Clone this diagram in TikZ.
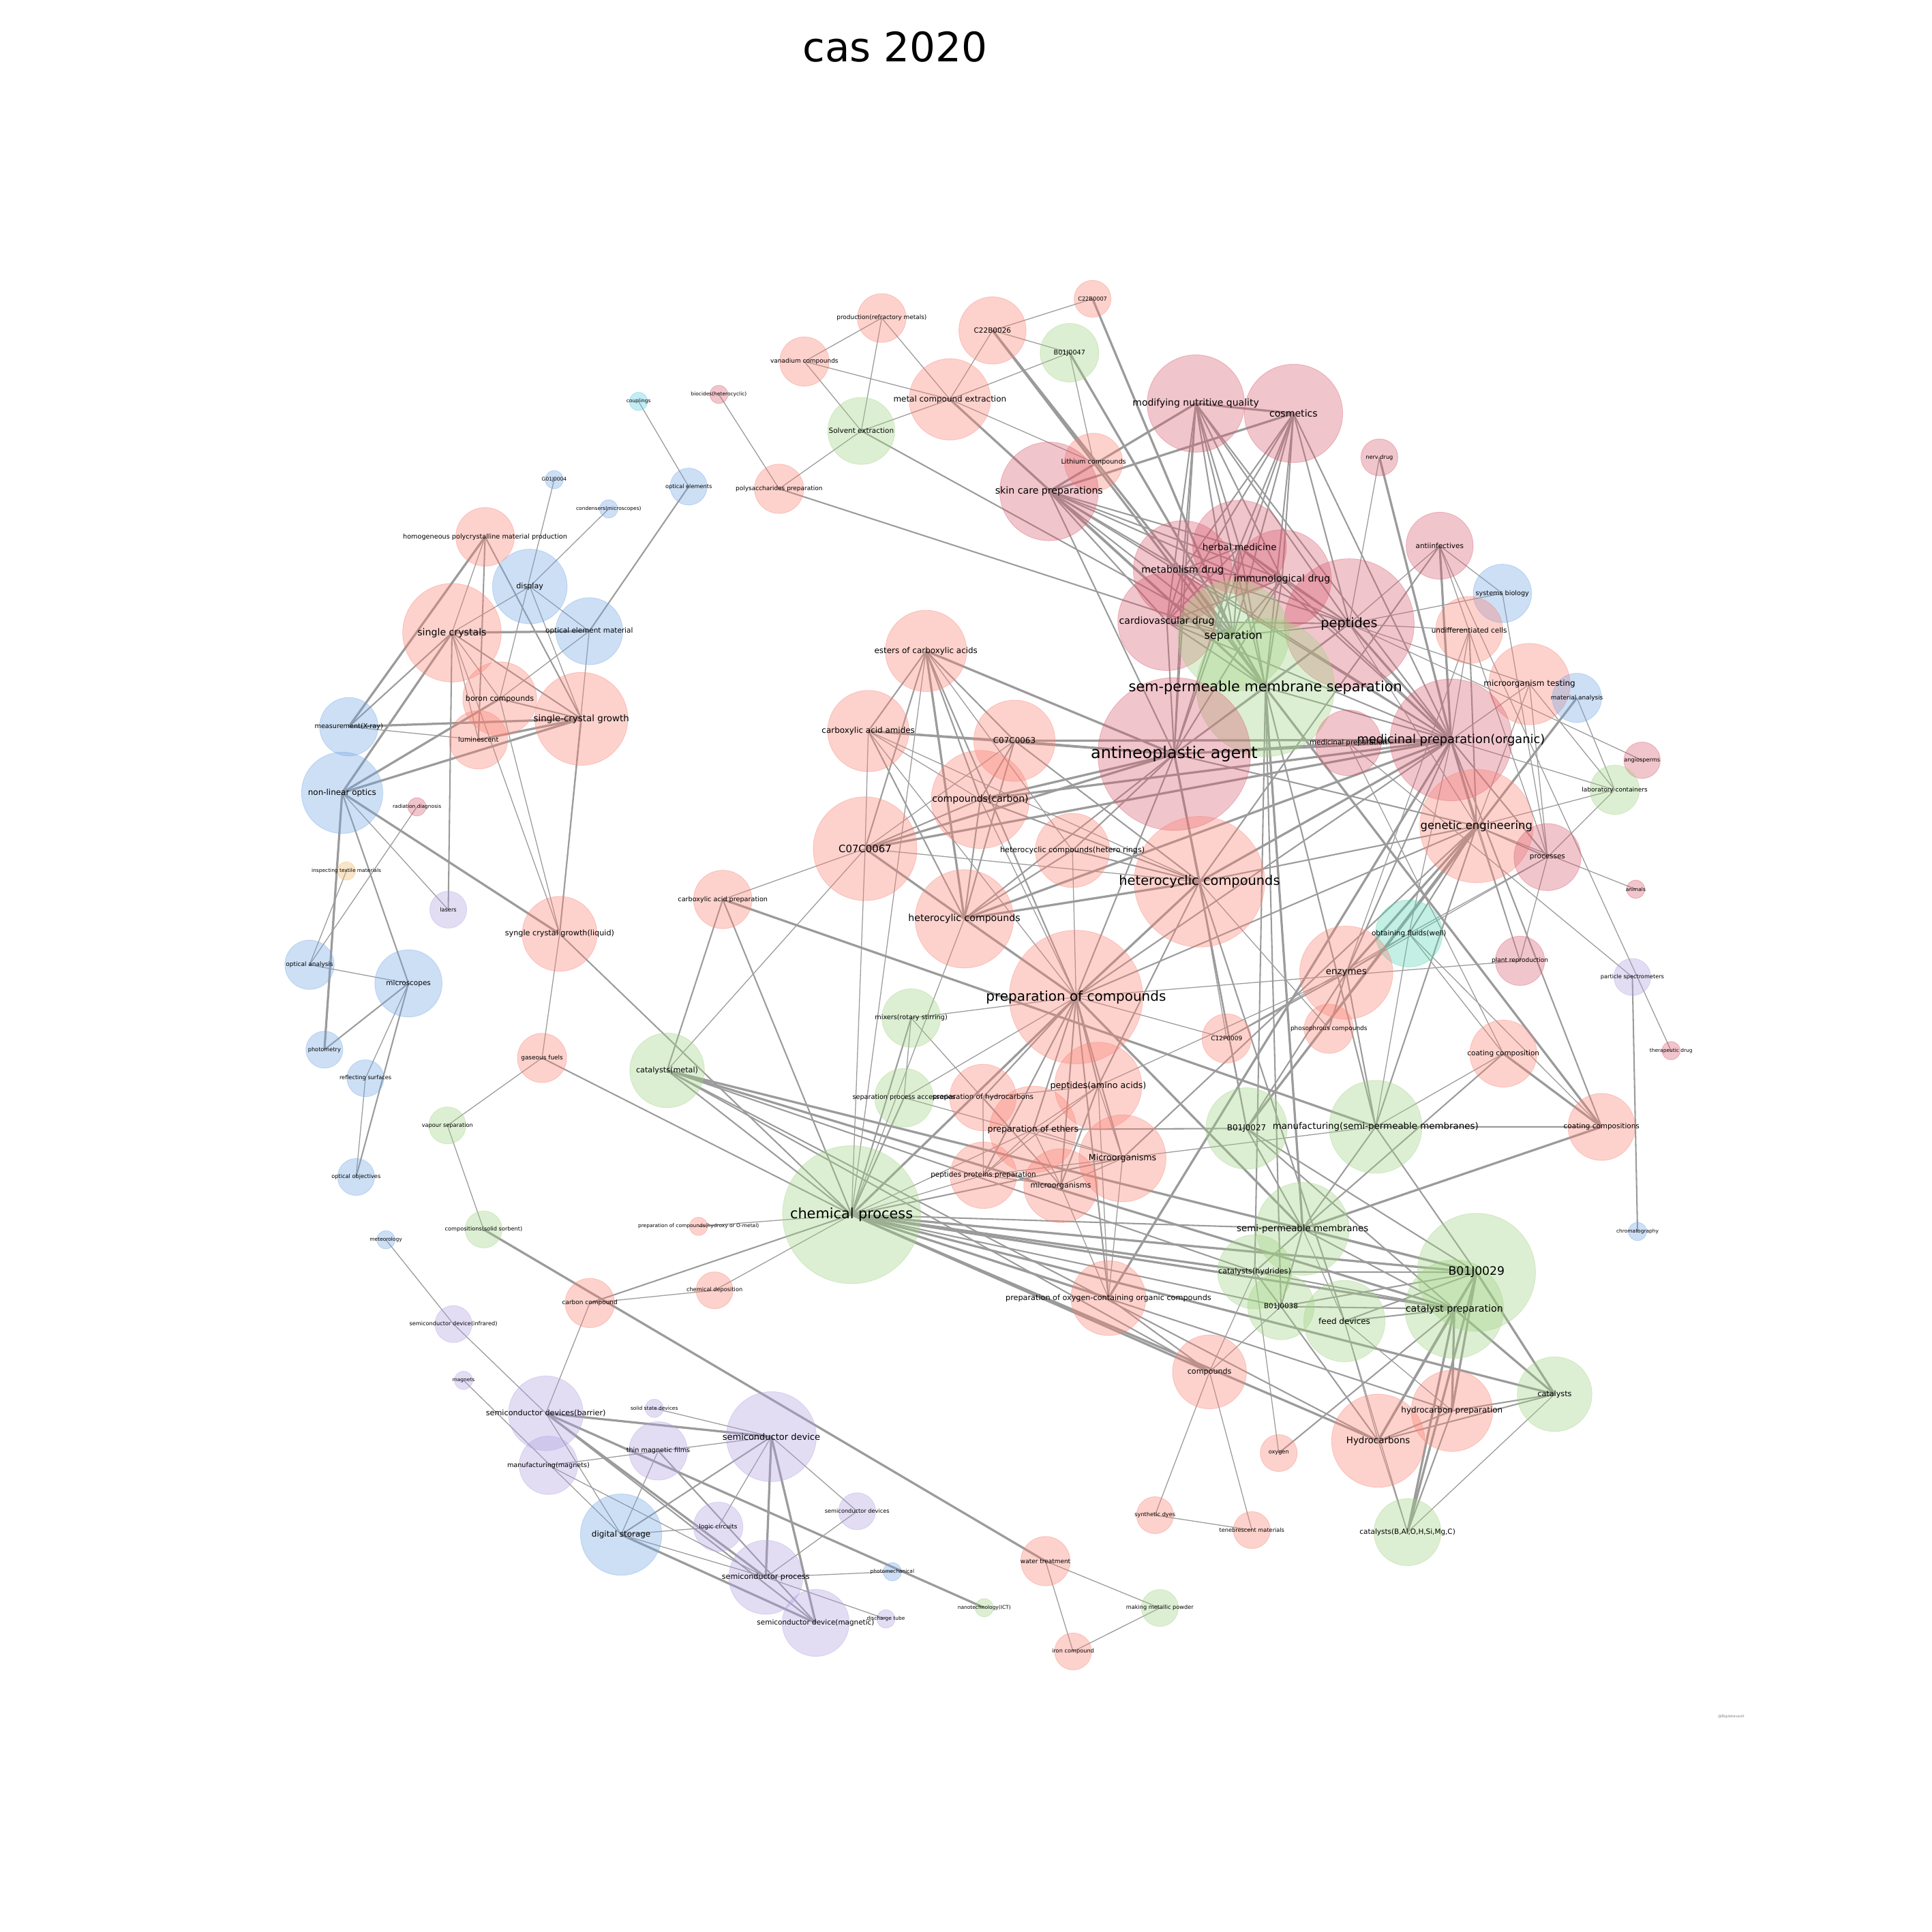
\documentclass[tikz,border=0pt]{standalone}
\usepackage{fontspec}
\setmainfont{DejaVu Sans}
\pgfdeclarelayer{bg}
\pgfdeclarelayer{edges}
\pgfdeclarelayer{labels}
\pgfsetlayers{bg,edges,main,labels}
\definecolor{cS}{RGB}{250,128,114}
\definecolor{cP}{RGB}{215,90,110}
\definecolor{cG}{RGB}{160,210,130}
\definecolor{cB}{RGB}{112,166,229}
\definecolor{cL}{RGB}{175,160,226}
\definecolor{cT}{RGB}{86,212,178}
\definecolor{cC}{RGB}{86,201,224}
\definecolor{cO}{RGB}{240,184,98}
\definecolor{edgec}{RGB}{155,155,155}
\tikzset{
  nodecirc/.style={circle, inner sep=0pt, outer sep=0pt, fill opacity=0.35, draw opacity=0.35, line width=0.5pt},
  et/.style={draw=edgec, line width=0.7pt},
  em/.style={draw=edgec, line width=1.15pt},
  ek/.style={draw=edgec, line width=1.8pt},
  lbl/.style={text=black, inner sep=0pt}
}
\newcommand{\ND}[6]{%
  \pgfmathsetmacro{\fsz}{4+0.0024*#4*#4}%
  \node[nodecirc, fill=#5, draw=#5, minimum size=#4*2pt] (#1) at (#2,#3) {};%
  \begin{pgfonlayer}{labels}\node[lbl, font=\fontsize{\fsz}{\fsz}\selectfont] at (#1.center) {#6};\end{pgfonlayer}%
}
\begin{document}
\begin{tikzpicture}[x=1pt,y=-1pt]
\begin{pgfonlayer}{bg}
\fill[white] (0,0) rectangle (1568,1568);
\end{pgfonlayer}
\useasboundingbox (0,0) rectangle (1568,1568);
\node[font=\fontsize{33}{33}\selectfont, inner sep=0pt] (title) at (726.5,38) {cas 2020};
\node[font=\fontsize{2.9}{3}\selectfont, text=gray, inner sep=0pt] (wm) at (1405,1393) {@Bigdatavault};
% top cluster
\ND{prm}{715.6}{258.1}{19.8}{cS}{production(refractory metals)}
\ND{van}{652.8}{293.4}{20}{cS}{vanadium compounds}
\ND{c26}{805.5}{268.2}{27.3}{cS}{C22B0026}
\ND{c07}{886.7}{242.5}{15}{cS}{C22B0007}
\ND{b47}{868}{286.3}{23.8}{cG}{B01J0047}
\ND{mce}{770.9}{324.1}{33}{cS}{metal compound extraction}
\ND{sol}{699}{349.7}{27.2}{cG}{Solvent extraction}
\ND{pol}{632.3}{396.7}{20}{cS}{polysaccharides preparation}
\ND{lit}{887.5}{375.2}{23.6}{cS}{Lithium compounds}
\ND{bio}{583.4}{320.1}{7.4}{cP}{biocides(heterocyclic)}
\ND{cou}{518.2}{325.8}{7.4}{cC}{couplings}
\ND{ski}{851.4}{398.8}{40}{cP}{skin care preparations}
\ND{mnq}{970.5}{327.5}{39.5}{cP}{modifying nutritive quality}
\ND{cos}{1049.8}{335.5}{39.9}{cP}{cosmetics}
\ND{ner}{1119.5}{371.2}{15}{cP}{nerv drug}
\ND{her}{1006}{444}{38}{cP}{herbal medicine}
\ND{met}{959.8}{462.6}{40}{cP}{metabolism drug}
\ND{imm}{1040.5}{470}{40}{cP}{immunological drug}
\ND{car}{947}{504.4}{39.8}{cP}{cardiovascular drug}
\ND{pep}{1095}{506.2}{52.7}{cP}{peptides}
\ND{sep}{1001}{516}{45}{cG}{separation}
\ND{sms}{1027}{558}{56}{cG}{sem-permeable membrane separation}
\ND{ant}{953}{612}{62}{cP}{antineoplastic agent}
\ND{anf}{1168.4}{442.9}{27.2}{cP}{antiinfectives}
\ND{sys}{1219.3}{481.6}{23.7}{cB}{systems biology}
\ND{und}{1192.4}{511.3}{27.2}{cS}{undifferentiated cells}
\ND{mot}{1241.3}{555.2}{33}{cS}{microorganism testing}
\ND{man}{1279.8}{566.4}{20}{cB}{material analysis}
\ND{mpr}{1094.3}{602.9}{26.7}{cP}{medicinal preparation}
\ND{mpo}{1177.6}{600.5}{49.4}{cP}{medicinal preparation(organic)}
\ND{ang}{1332.7}{617}{14.8}{cP}{angiosperms}
\ND{lab}{1310.5}{641}{20}{cG}{laboratory containers}
\ND{gen}{1198.3}{670.4}{46}{cS}{genetic engineering}
\ND{pro}{1255.9}{695.6}{27.2}{cP}{processes}
\ND{ani}{1327.5}{721.7}{7.4}{cP}{animals}
\ND{obt}{1143.5}{757.6}{27.2}{cT}{obtaining fluids(well)}
\ND{enz}{1092.6}{789.4}{37.8}{cS}{enzymes}
\ND{pla}{1233.6}{779.8}{20}{cP}{plant reproduction}
\ND{par}{1324.8}{792.9}{15}{cL}{particle spectrometers}
\ND{pho}{1078.5}{834.9}{20}{cS}{phosophrous compounds}
\ND{c12}{995.5}{842.8}{20}{cS}{C12P0009}
\ND{coa}{1220.1}{855.1}{27.2}{cS}{coating composition}
\ND{the}{1356.2}{852.7}{7.4}{cP}{therapeutic drug}
\ND{b27}{1011.7}{915.8}{33}{cG}{B01J0027}
\ND{msp}{1116.4}{914.5}{37.7}{cG}{manufacturing(semi-permeable membranes)}
\ND{ccs}{1299.8}{914.6}{27.2}{cS}{coating compositions}
% middle
\ND{est}{751.5}{528.3}{33}{cS}{esters of carboxylic acids}
\ND{caa}{704.7}{593.3}{33}{cS}{carboxylic acid amides}
\ND{c63}{823.3}{601.2}{33}{cS}{C07C0063}
\ND{cca}{795.6}{648.8}{39.8}{cS}{compounds(carbon)}
\ND{c67}{702.1}{688.8}{42.1}{cS}{C07C0067}
\ND{hhr}{870.4}{690.2}{30.1}{cS}{heterocyclic compounds(hetero rings)}
\ND{het}{973.5}{715.6}{53}{cS}{heterocyclic compounds}
\ND{hcy}{782.6}{745.7}{39.9}{cS}{heterocylic compounds}
\ND{cap}{586.6}{730}{23.7}{cS}{carboxylic acid preparation}
\ND{poc}{873.3}{809.2}{54.2}{cS}{preparation of compounds}
\ND{mix}{739.5}{826.2}{23.7}{cG}{mixers(rotary stirring)}
\ND{spa}{733.7}{890.9}{23.8}{cG}{separation process accessories}
\ND{phc}{797.8}{890.7}{27}{cS}{preparation of hydrocarbons}
\ND{paa}{891.3}{881.3}{35.4}{cS}{peptides(amino acids)}
\ND{poe}{838.4}{916.7}{35.2}{cS}{preparation of ethers}
\ND{MIC}{911}{940.1}{35.3}{cS}{Microorganisms}
\ND{ppp}{798.1}{953.8}{27}{cS}{peptides proteins preparation}
\ND{mic}{860.9}{962.3}{30}{cS}{microorganisms}
\ND{chp}{691.1}{985.8}{56}{cG}{chemical process}
\ND{cme}{541.4}{868.7}{30.3}{cG}{catalysts(metal)}
\ND{gas}{439.9}{858.6}{20}{cS}{gaseous fuels}
\ND{vap}{363.1}{913.4}{15}{cG}{vapour separation}
\ND{css}{392.5}{997.8}{15}{cG}{compositions(solid sorbent)}
\ND{pch}{566.9}{995.3}{7.4}{cS}{preparation of compounds(hydroxy or O-metal)}
\ND{cbc}{478.7}{1057.5}{20}{cS}{carbon compound}
\ND{cde}{579.9}{1047.2}{15}{cS}{chemical deposition}
% bottom right
\ND{spm}{1057.2}{997.3}{37.7}{cG}{semi-permeable membranes}
\ND{chr}{1329}{999.5}{7.4}{cB}{chromatography}
\ND{chy}{1018.3}{1032.2}{30.1}{cG}{catalysts(hydrides)}
\ND{b29}{1198.3}{1032.6}{47.9}{cG}{B01J0029}
\ND{b38}{1039.6}{1060.3}{27}{cG}{B01J0038}
\ND{fee}{1091.1}{1072.2}{33}{cG}{feed devices}
\ND{cpr}{1180.3}{1062.4}{40}{cG}{catalyst preparation}
\ND{pox}{899.6}{1053.5}{30.4}{cS}{preparation of oxygen-containing organic compounds}
\ND{cmp}{981.6}{1113.4}{30}{cS}{compounds}
\ND{cat}{1261.7}{1131.5}{30.3}{cG}{catalysts}
\ND{hpr}{1178.4}{1145}{33}{cS}{hydrocarbon preparation}
\ND{hyd}{1118.5}{1169.3}{37.8}{cS}{Hydrocarbons}
\ND{oxy}{1037.8}{1179.3}{15}{cS}{oxygen}
\ND{ten}{1016}{1241.8}{15}{cS}{tenebrescent materials}
\ND{cbal}{1142.3}{1243.5}{27.2}{cG}{catalysts(B,Al,O,H,Si,Mg,C)}
\ND{syn}{937.4}{1229.7}{15}{cS}{synthetic dyes}
\ND{wat}{848.5}{1267}{20}{cS}{water treatment}
\ND{mmp}{941.3}{1305}{15}{cG}{making metallic powder}
\ND{iro}{870.9}{1340.3}{15}{cS}{iron compound}
\ND{nan}{798.8}{1304.8}{7.4}{cG}{nanotechnology(ICT)}
% bottom left
\ND{meo}{313.2}{1006.2}{7.4}{cB}{meteorology}
\ND{sdi}{368}{1074.6}{15}{cL}{semiconductor device(infrared)}
\ND{mag}{376.2}{1120.3}{7.4}{cL}{magnets}
\ND{sdb}{443}{1147}{30.3}{cL}{semiconductor devices(barrier)}
\ND{ssd}{531}{1143}{7.4}{cL}{solid state devices}
\ND{tmf}{534.2}{1177.5}{23.7}{cL}{thin magnetic films}
\ND{mfm}{445.1}{1189.2}{23.7}{cL}{manufacturing(magnets)}
\ND{sde}{626}{1166}{36.5}{cL}{semiconductor device}
\ND{log}{582.9}{1239.1}{20}{cL}{logic circuits}
\ND{dst}{504.1}{1245.5}{33}{cB}{digital storage}
\ND{spr}{621.5}{1280.1}{30}{cL}{semiconductor process}
\ND{smg}{662}{1317.1}{27.2}{cL}{semiconductor device(magnetic)}
\ND{sds}{695.6}{1226.5}{15}{cL}{semiconductor devices}
\ND{phm}{724.2}{1275.6}{7.4}{cB}{photomechanical}
\ND{dis}{719}{1313.9}{7.4}{cL}{discharge tube}
% top left
\ND{g04}{449.8}{389.3}{7.4}{cB}{G01J0004}
\ND{con}{494}{413}{7.4}{cB}{condensers(microscopes)}
\ND{ope}{558.9}{394.9}{15}{cB}{optical elements}
\ND{hpm}{393.7}{435.7}{23.8}{cS}{homogeneous polycrystalline material production}
\ND{dsp}{430}{476}{30.3}{cB}{display}
\ND{oem}{478.2}{512.3}{27.2}{cB}{optical element material}
\ND{sgc}{366.8}{513.5}{40}{cS}{single crystals}
\ND{bor}{405.6}{567.1}{30}{cS}{boron compounds}
\ND{scg}{471.8}{583.4}{37.7}{cS}{single-crystal growth}
\ND{mxr}{283.1}{589.8}{23.7}{cB}{measurement(X-ray)}
\ND{lum}{388.3}{600.4}{23.7}{cS}{luminescent}
\ND{nlo}{277.7}{643.4}{33}{cB}{non-linear optics}
\ND{rad}{338.4}{654.8}{7.4}{cP}{radiation diagnosis}
\ND{tex}{281.1}{706.9}{7.4}{cO}{inspecting textile materials}
\ND{las}{363.8}{738.3}{15}{cL}{lasers}
\ND{scl}{454.2}{757.9}{30.4}{cS}{syngle crystal growth(liquid)}
\ND{opa}{251.2}{783}{20}{cB}{optical analysis}
\ND{mis}{331.5}{798.1}{27.3}{cB}{microscopes}
\ND{phy}{263.3}{851.9}{15}{cB}{photometry}
\ND{ref}{296.6}{875.1}{15}{cB}{reflecting surfaces}
\ND{obj}{289}{955.2}{15}{cB}{optical objectives}
% edges
\begin{pgfonlayer}{edges}
\foreach \a/\b in {cou/ope, bio/pol, g04/bor, con/dsp, hpm/sgc, sgc/bor, sgc/scl, sgc/lum, dsp/sgc, dsp/oem, dsp/scg, oem/bor, oem/scl, mxr/lum, nlo/las, rad/opa, tex/opa, opa/mis, mis/ref, ref/obj, scl/gas, gas/vap, vap/css, bor/scl,
 prm/van, prm/sol, prm/mce, van/sol, van/mce, c26/c07, c26/b47, c26/mce, mce/b47, sol/mce, mce/lit, b47/lit, sol/pol,
 pep/ner, pep/anf, pep/sys, pep/und, pep/mot, pep/ang, pep/gen, anf/sys, anf/pro, anf/the, sys/pro, und/mpo, und/enz, mot/mpo, mot/gen, mot/lab, mot/pro, man/lab, mpr/par,
 mpo/obt, mpo/lab, mpo/pla, gen/lab, gen/ani, gen/pla, pro/pla, pro/lab, pro/enz, obt/coa, obt/ccs, obt/msp, obt/enz, obt/pro, enz/paa, pho/het, c12/het, c12/poc, c12/obt, poc/pla, coa/msp, mpr/coa,
 est/chp, est/hhr, caa/cca, caa/c67, caa/het, caa/poc, c63/c67, cca/poc, c67/het, c67/chp, c67/cme, c67/cap, hhr/poc, hcy/chp,
 poc/mix, poc/spa, mix/spa, mix/mic, spa/MIC, phc/ppp, phc/mic, phc/paa, paa/poe, paa/MIC, paa/ppp, paa/pox, poe/MIC, poe/mic, poe/ppp, poe/chp, ppp/msp, mic/ppp, mic/MIC, mic/pox, pox/MIC, chp/cde, chp/pch, chp/ppp,
 fee/spm, fee/cbal, fee/hpr, hyd/fee, hyd/cbal, cat/cbal, b38/cmp, chy/cmp, chy/oxy, cmp/ten, cmp/syn, syn/ten, wat/mmp, wat/iro, iro/mmp, cbc/cde, sdb/cbc,
 meo/sdi, sdi/sdb, mag/dst, sdb/dst, ssd/sde, mfm/sde, mfm/spr, tmf/dst, log/dst, log/sde, sde/sds, spr/phm, spr/sds, spr/dis, dst/spr}
 \draw[et] (\a.center) -- (\b.center);
\foreach \a/\b in {ope/oem, hpm/lum, hpm/scg, sgc/mxr, sgc/las, sgc/scg, nlo/mis, mis/phy, mis/obj, bor/scg, scl/chp, gas/chp, scg/scl, sol/sep, pol/sep,
 ski/her, ski/met, ski/imm, ski/car, ski/pep, ski/sep, ski/sms, ski/ant, ski/mpo,
 mnq/her, mnq/met, mnq/imm, mnq/car, mnq/pep, mnq/sep, mnq/sms, mnq/ant, mnq/mpo,
 cos/her, cos/met, cos/imm, cos/car, cos/pep, cos/sep, cos/sms, cos/ant, cos/mpo,
 her/met, her/imm, her/car, her/pep, her/sep, her/sms, her/ant, her/mpo,
 met/imm, met/car, met/pep, met/sep, met/sms, met/ant, met/mpo,
 imm/car, imm/pep, imm/sep, imm/sms, imm/ant, imm/mpo,
 car/pep, car/sep, car/sms, car/ant, car/mpo,
 pep/sep, pep/sms, pep/ant, anf/het, und/gen,
 mpo/pro, mpo/ccs, mpo/enz, mpo/mpr, mpo/sms, mpo/poc,
 gen/pro, gen/obt, gen/b27, gen/msp, gen/poc, gen/MIC, gen/het, gen/ant,
 enz/c12, enz/pho, enz/b27, enz/msp, coa/spm, ccs/msp, par/chr,
 sms/b38, sms/msp, sms/chy, sms/ant,
 ant/hcy, ant/c63, ant/poc, ant/hhr, ant/mpr, ant/b27,
 het/cca, het/hhr, het/b27, het/fee,
 est/caa, est/c63, est/cca, est/c67, est/poc,
 caa/c63, caa/hcy, c63/cca, c63/hcy, c63/het, cca/c67, cca/hcy, c67/poc, hhr/hcy,
 mix/chp, spa/chp, poc/phc, poc/paa, poc/poe, poc/MIC, poc/ppp, poc/mic, poc/pox, paa/mic, paa/het, poe/b27,
 chp/spm, chp/b38, chp/hpr, chp/cme, chp/cbc, chp/cap, chp/MIC,
 cme/spm, cme/chy, cme/hyd, cme/cmp, cme/cap,
 b29/fee, b29/b38, b29/chy, b29/b27, b29/msp,
 cpr/fee, cpr/chy, cpr/spm, cpr/b38, cpr/oxy, cpr/b27,
 cat/hpr, cat/hyd, hpr/hyd, hpr/cbal, hyd/b38, b38/chy, b38/spm, chy/spm, spm/msp, spm/b27, cmp/pox,
 sdb/smg, tmf/smg, dst/sde}
 \draw[em] (\a.center) -- (\b.center);
\foreach \a/\b in {hpm/mxr, sgc/oem, sgc/nlo, mxr/scg, lum/scg, nlo/bor, nlo/scg, nlo/phy, nlo/scl,
 c26/sep, c26/sms, b47/sms, c07/sep, mce/sms,
 ski/mnq, ski/cos, mnq/cos, pep/mpo, ner/mpo, anf/mpo, man/b27,
 mpo/ant, mpo/het, mpo/hcy, mpo/cca, mpo/c63, mpo/gen, gen/enz,
 sms/spm, sms/ccs, ant/het, ant/cca, het/hcy, het/poc, est/hcy, est/ant, caa/ant,
 c67/hcy, c67/ant, c67/mpo, hcy/poc, poc/chp, cap/msp, poc/spm,
 pox/mpo, chp/b29, chp/cpr, chp/chy, chp/hyd, chp/cmp, chp/pox, chp/cat,
 cme/b29, cme/cpr,
 b29/cpr, b29/cat, b29/hpr, b29/hyd, b29/cbal, b29/spm, cpr/cat, cpr/hpr, cpr/hyd, cpr/cbal, ccs/spm, coa/ccs,
 css/wat, sdb/nan, sdb/sde, sdb/spr, sde/spr, sde/smg, dst/smg}
 \draw[ek] (\a.center) -- (\b.center);
\end{pgfonlayer}
\end{tikzpicture}
\end{document}
